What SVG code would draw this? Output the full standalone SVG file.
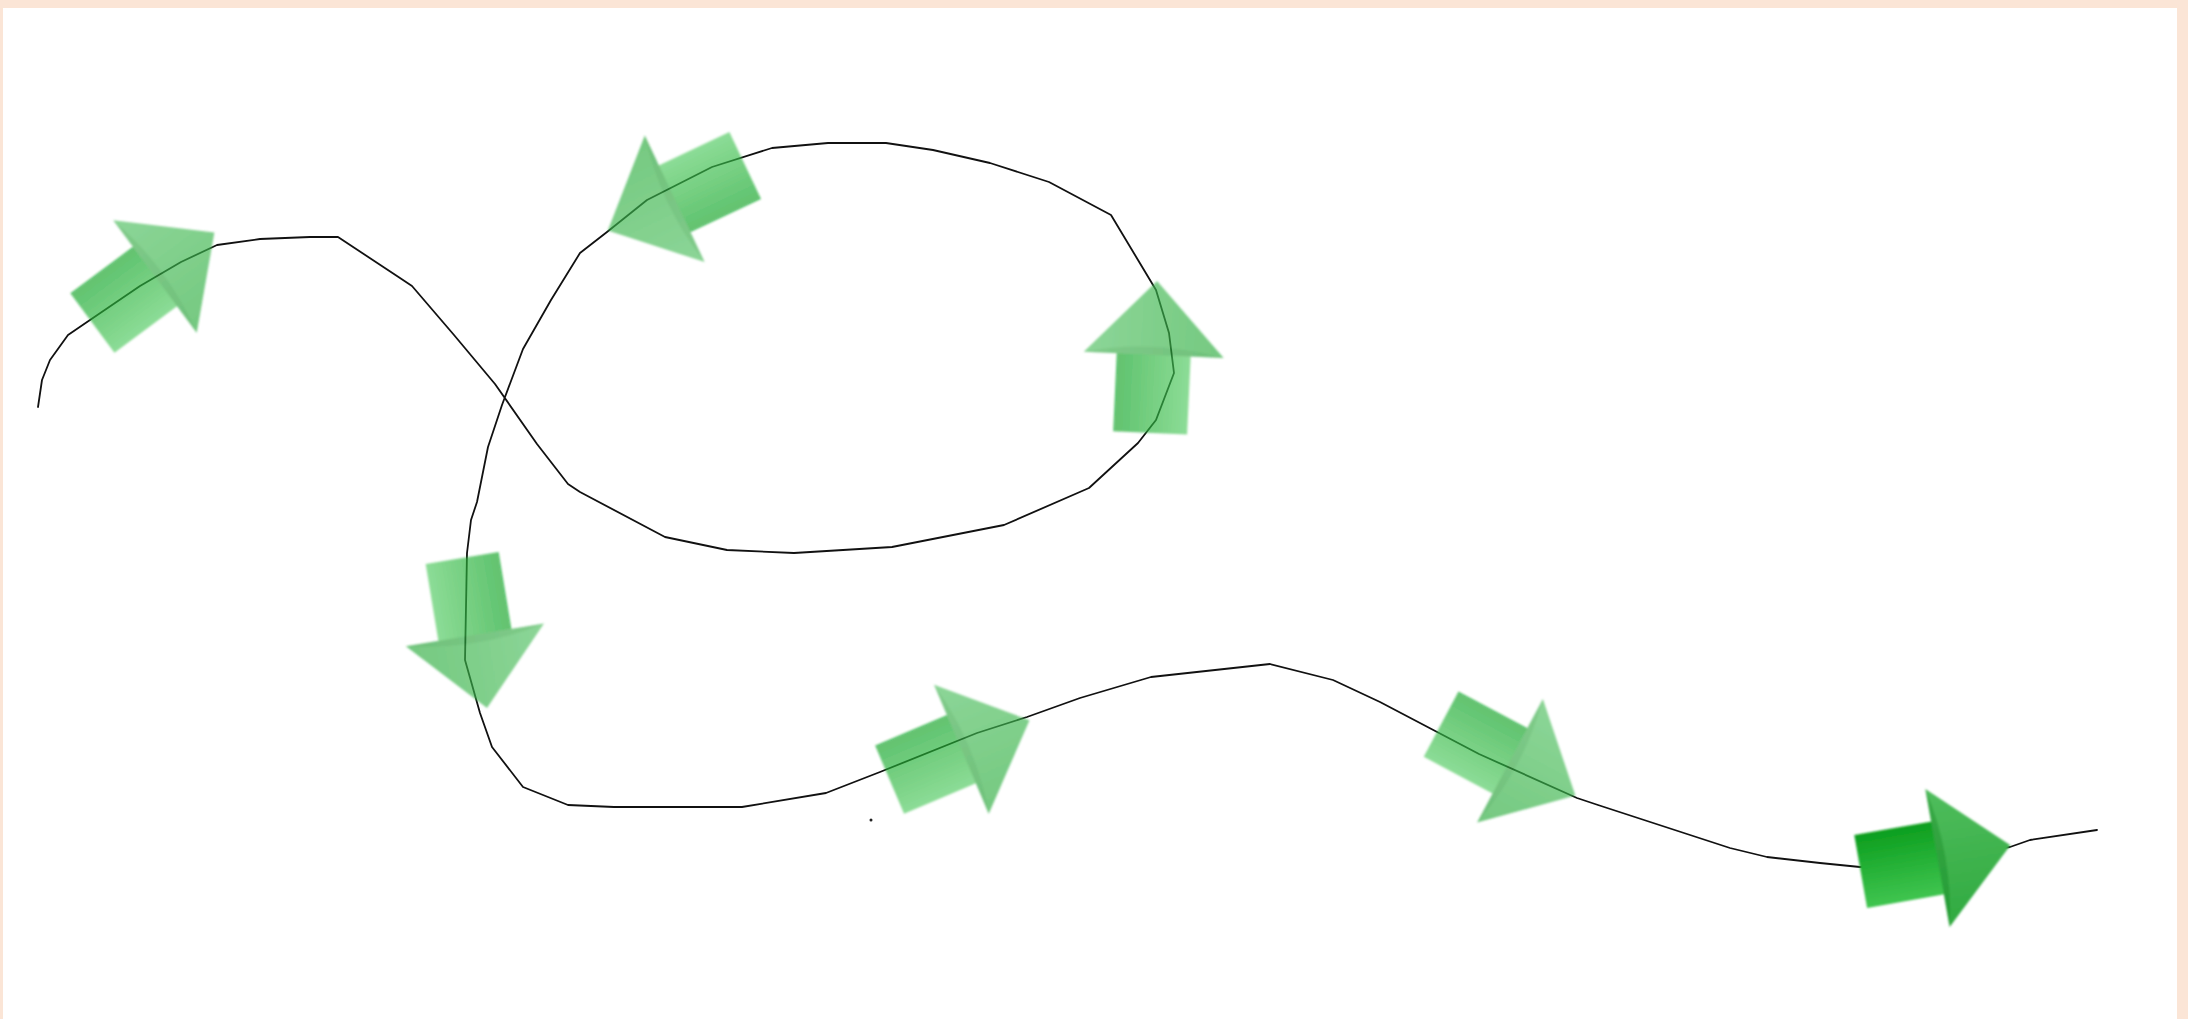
<svg xmlns="http://www.w3.org/2000/svg" xmlns:xlink="http://www.w3.org/1999/xlink" width="2188" height="1019" viewBox="0 0 2188 1019">
<style>
.curve{fill:none;stroke:#111;stroke-width:1.8;stroke-linejoin:round;stroke-linecap:round}
.soft{opacity:0.65}
</style>
<defs>
<filter id="blur" x="-10%" y="-10%" width="120%" height="120%"><feGaussianBlur stdDeviation="0.9"/></filter>
<linearGradient id="shaftSoft" x1="0" y1="0" x2="0" y2="1"><stop offset="0" stop-color="#09a220"/><stop offset="1" stop-color="#50ca5f"/></linearGradient>
<linearGradient id="headSoft" x1="0" y1="0" x2="0" y2="1"><stop offset="0" stop-color="#50c060"/><stop offset="1" stop-color="#2aac3d"/></linearGradient>
<linearGradient id="shaftSolid" x1="0" y1="0" x2="0" y2="1"><stop offset="0" stop-color="#0c9e1e"/><stop offset="1" stop-color="#40c550"/></linearGradient>
<linearGradient id="headSolid" x1="0" y1="0" x2="0" y2="1"><stop offset="0" stop-color="#50bd5d"/><stop offset="1" stop-color="#30aa40"/></linearGradient>
<g id="arrowSoft">
<rect x="-78" y="-37" width="80" height="74" fill="url(#shaftSoft)"/>
<polygon points="0,-70 74,0 0,70" fill="url(#headSoft)"/>
<path d="M0,-70 Q16,0 0,70 Z" fill="#087a18" opacity="0.25"/>
</g>
<g id="arrowSolid">
<rect x="-78" y="-37" width="80" height="74" fill="url(#shaftSolid)"/>
<polygon points="0,-70 74,0 0,70" fill="url(#headSolid)"/>
<path d="M0,-70 Q16,0 0,70 Z" fill="#077a16" opacity="0.3"/>
</g>
</defs>
<rect x="0" y="0" width="2188" height="1019" fill="#fbe5d6"/>
<rect x="3" y="8" width="2174" height="1011" fill="#ffffff"/>
<g id="connectors">
<polyline class="curve" points="38,407 42,380 50,360 68,335 90,320 140,286 181,262 217,245 260,239 310,237 338,237 400,278 412,286 454,335 495,384 537,444 568,484 580,492 665,537 727,550 794,553 892,547 1004,525 1089,488 1138,443 1156,420 1174,373 1169,333 1156,290 1138,260 1111,215 1049,182 990,163 933,150 886,143 828,143 772,148 712,167 647,200 607,232 580,253 551,300 523,349 502,405 488,447 477,502 471,520 467,553 465,660 480,713 492,747 523,787 568,805 614,807 742,807 826,793 880,772 977,733 1027,717 1080,698 1151,677 1270,664 1333,680 1380,702 1479,754 1577,798 1598,805 1730,848 1767,857 1820,863 1860,867 2010,847 2030,840 2097,830"/>
<circle cx="871" cy="820" r="1.5" fill="#222"/>
</g>
<g id="arrow1" filter="url(#blur)"><use class="soft" xlink:href="#arrowSoft" href="#arrowSoft" transform="translate(155,276.5) rotate(-36.6)"/></g>
<g id="arrow2" filter="url(#blur)"><use class="soft" xlink:href="#arrowSoft" href="#arrowSoft" transform="translate(674.7,198.8) rotate(154.7)"/></g>
<g id="arrow3" filter="url(#blur)"><use class="soft" xlink:href="#arrowSoft" href="#arrowSoft" transform="translate(1153.7,354.9) rotate(-87.4)"/></g>
<g id="arrow4" filter="url(#blur)"><use class="soft" xlink:href="#arrowSoft" href="#arrowSoft" transform="translate(474.9,634.9) rotate(80.6)"/></g>
<g id="arrow5" filter="url(#blur)"><use class="soft" xlink:href="#arrowSoft" href="#arrowSoft" transform="translate(961.4,749.2) rotate(-23)"/></g>
<g id="arrow6" filter="url(#blur)"><use class="soft" xlink:href="#arrowSoft" href="#arrowSoft" transform="translate(1510,760.8) rotate(28)"/></g>
<g id="arrow7" filter="url(#blur)"><use xlink:href="#arrowSolid" href="#arrowSolid" transform="translate(1937.5,858) rotate(-10)"/></g>
</svg>
